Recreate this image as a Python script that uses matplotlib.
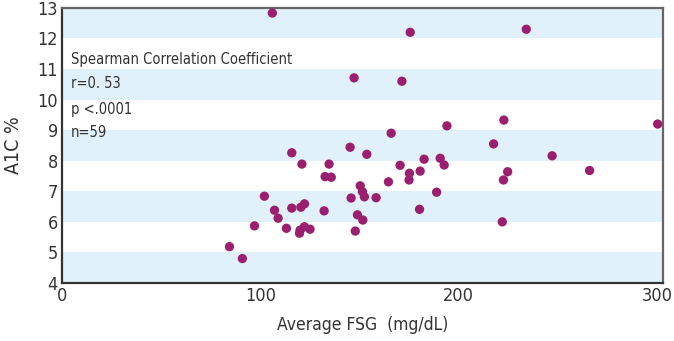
import numpy as np
import matplotlib.pyplot as plt

# valores
fsg = [106, 175.5, 234, 147.2, 171.3, 194, 222.7, 300.2, 217.5, 247,
       190.6, 192.6, 224.6, 222.5, 265.9, 188.8, 221.9, 165.9, 145.2, 153.6,
       134.6, 132.6, 135.7, 170.4, 182.5, 175.1, 174.9, 180.5, 164.5, 150.3,
       151.4, 152.4, 145.7, 158.3, 132.1, 180.2, 148.9, 151.6, 147.8, 115.8,
       120.9, 102, 107.1, 108.9, 115.8, 120.4, 122.2, 97, 113.1, 120,
       119.7, 122.2, 125, 84.4, 90.9]
a1c = [12.83, 12.20, 12.30, 10.71, 10.60, 9.14, 9.33, 9.20, 8.55, 8.16,
       8.08, 7.86, 7.64, 7.37, 7.68, 6.97, 6.00, 8.90, 8.44, 8.21,
       7.89, 7.48, 7.46, 7.85, 8.05, 7.59, 7.37, 7.66, 7.31, 7.18,
       6.99, 6.82, 6.78, 6.79, 6.36, 6.41, 6.23, 6.06, 5.70, 8.26,
       7.89, 6.84, 6.38, 6.12, 6.45, 6.48, 6.59, 5.87, 5.79, 5.73,
       5.63, 5.84, 5.76, 5.19, 4.80]
stats_lines = ["Spearman Correlation Coefficient", "r=0. 53", "p <.0001", "n=59"]

plt.rcParams['font.family'] = ['DejaVu Sans']
plt.rcParams['font.stretch'] = 'condensed'

fig = plt.figure(figsize=(6.74, 3.41), dpi=100)
ax = fig.add_axes([0.092, 0.170, 0.892, 0.807])

# franjas horizontales
for lo in range(4, 13, 2):
    ax.axhspan(lo, lo + 1, color='#e0f1fb', lw=0, zorder=0)

ax.scatter(fsg, a1c, s=45, color='#9b1f6f', edgecolors='none', zorder=3)

ax.set_xlim(0, 303)
ax.set_ylim(4, 13)
ax.set_xticks([0, 100, 200, 300])
ax.set_yticks(range(4, 14))
ax.tick_params(length=0, labelsize=13, colors='#333333', pad=3)

for side in ['left', 'bottom']:
    ax.spines[side].set_color('#333333')
    ax.spines[side].set_linewidth(1.6)
for side in ['top', 'right']:
    ax.spines[side].set_color('#666666')
    ax.spines[side].set_linewidth(1.6)

ax.set_xlabel("Average FSG  (mg/dL)", fontsize=12.5, color='#333333', labelpad=8)
ax.set_ylabel("A1C %", fontsize=14, color='#333333', labelpad=10)

y_txt = [11.32, 10.52, 9.68, 8.92]
for txt, yy in zip(stats_lines, y_txt):
    ax.text(4.5, yy, txt, fontsize=10.5, color='#333333', va='center', zorder=4)

fig.savefig("out.png", dpi=100)
